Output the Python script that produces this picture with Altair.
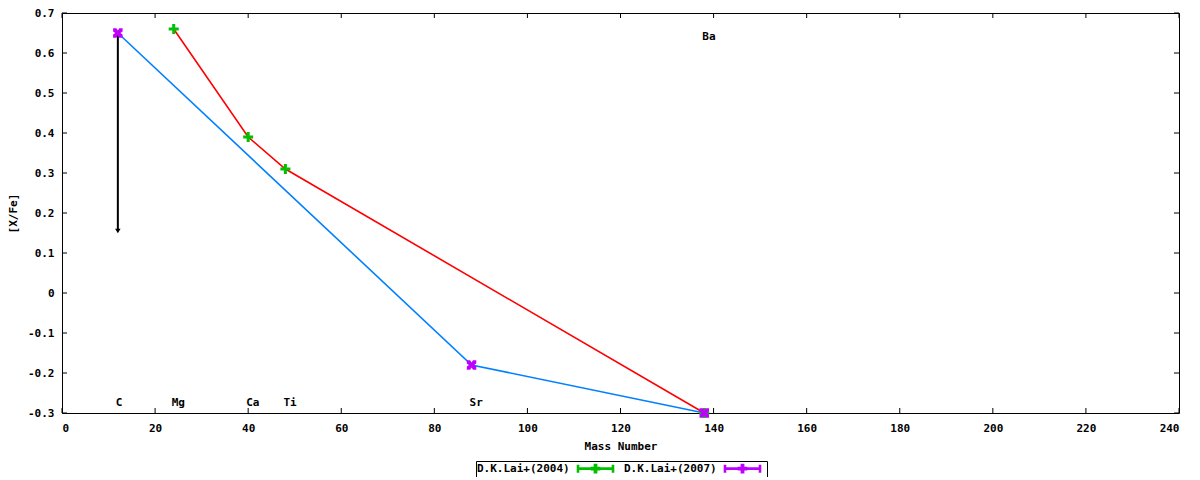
import altair as alt
import pandas as pd

# ---- data ----
SERIES = ["D.K.Lai+(2004)", "D.K.Lai+(2007)"]
MASS_2004 = [24, 40, 48, 138]
XFE_2004 = [0.66, 0.39, 0.31, -0.30]
MASS_2007 = [12, 88, 138]
XFE_2007 = [0.65, -0.18, -0.30]

# upper limit arrow for C (2007)
LIMIT_MASS = [12]
LIMIT_FROM = [0.65]
LIMIT_TO = [0.155]

ELEM_NAMES = ["C", "Mg", "Ca", "Ti", "Sr", "Ba"]
ELEM_MASS = [12, 24, 40, 48, 88, 138]
ELEM_Y = [-0.275, -0.275, -0.275, -0.275, -0.275, 0.64]

X_TICKS = [0, 20, 40, 60, 80, 100, 120, 140, 160, 180, 200, 220, 240]
Y_TICKS = [-0.3, -0.2, -0.1, 0.0, 0.1, 0.2, 0.3, 0.4, 0.5, 0.6, 0.7]

LINE_COLORS = ["#ff0000", "#0080ff"]
POINT_COLORS = ["#00c000", "#c000ff"]

W, H = 1117, 400
FONT = "DejaVu Sans Mono"

df = pd.DataFrame({
    "mass": MASS_2004 + MASS_2007,
    "xfe": XFE_2004 + XFE_2007,
    "series": [SERIES[0]] * len(MASS_2004) + [SERIES[1]] * len(MASS_2007),
})
lim = pd.DataFrame({"mass": LIMIT_MASS, "y1": LIMIT_FROM, "y2": LIMIT_TO})
elem = pd.DataFrame({"name": ELEM_NAMES, "mass": ELEM_MASS, "y": ELEM_Y})
xt = pd.DataFrame({"v": X_TICKS})
yt = pd.DataFrame({"v": Y_TICKS})

xs = alt.Scale(domain=[0, 240], nice=False, zero=False)
ys = alt.Scale(domain=[-0.3, 0.7], nice=False, zero=False)

xax = alt.Axis(values=X_TICKS, title="Mass Number", grid=False, ticks=False, domain=False,
               labelPadding=9, titlePadding=7, labelOverlap=False)
yax = alt.Axis(values=Y_TICKS, title="[X/Fe]", grid=False, ticks=False, domain=False,
               labelPadding=8, titlePadding=9, labelOverlap=False,
               labelExpr="abs(datum.value) < 1e-9 ? '0' : replace(format(datum.value, '.1f'), '\u2212', '-')")


def XF(field):
    return alt.X(field, type="quantitative", scale=xs, axis=xax)


def YF(field):
    return alt.Y(field, type="quantitative", scale=ys, axis=yax)


base = alt.Chart(df)
d04 = base.transform_filter(alt.datum.series == SERIES[0])
d07 = base.transform_filter(alt.datum.series == SERIES[1])

line04 = d04.mark_line(color=LINE_COLORS[0], strokeWidth=1.6).encode(
    x=XF("mass"), y=YF("xfe"), order="mass:Q")
line07 = d07.mark_line(color=LINE_COLORS[1], strokeWidth=1.6).encode(
    x=XF("mass"), y=YF("xfe"), order="mass:Q")

PLUS = "M-0.3,-1H0.3V-0.3H1V0.3H0.3V1H-0.3V0.3H-1V-0.3H-0.3Z"
XSQ = ("M-1,-1L-0.3,-1L0,-0.55L0.3,-1L1,-1L1,-0.3L0.55,0L1,0.3L1,1L0.3,1"
       "L0,0.55L-0.3,1L-1,1L-1,0.3L-0.55,0L-1,-0.3Z")

pts04 = d04.mark_point(filled=True, opacity=1, size=100, strokeWidth=0,
                       fill=POINT_COLORS[0], shape=PLUS).encode(x=XF("mass"), y=YF("xfe"))
pts07 = d07.mark_point(filled=True, opacity=1, size=90, strokeWidth=0,
                       fill=POINT_COLORS[1], shape=XSQ).encode(x=XF("mass"), y=YF("xfe"))

# upper-limit arrow
arrow = alt.Chart(lim).mark_rule(color="black", strokeWidth=2).encode(
    x=XF("mass"), y=YF("y1"), y2="y2:Q")
arrow_head = alt.Chart(lim).mark_point(shape="triangle-down", filled=True, color="black",
                                       opacity=1, size=30).encode(x=XF("mass"), y=YF("y2"))

color_scale = alt.Scale(domain=SERIES, range=POINT_COLORS)
# legend sample (error-bar style line with marker) drawn to the right of the label
LEG = ("M18.9,0H25.9M18.9,-0.8V0.8M25.9,-0.8V0.8"
       "M22.28,-0.7H22.52V-0.12H23.1V0.12H22.52V0.7H22.28V0.12H21.7V-0.12H22.28Z")

legend_carrier = base.transform_filter("false").mark_point(
    filled=False, opacity=1, strokeWidth=2.6).encode(
    x=XF("mass"), y=YF("xfe"),
    stroke=alt.Stroke("series:N", scale=color_scale, legend=alt.Legend(
        title=None, orient="none", direction="horizontal", legendX=414, legendY=448,
        symbolType=LEG, symbolSize=100, symbolStrokeWidth=2.6,
        labelFont=FONT, labelFontSize=11, labelFontWeight="bold", labelColor="black",
        labelAlign="left", labelOffset={"expr": "-13"}, columnPadding=5,
        strokeColor="black", padding=1, offset=0)),
)

labels = alt.Chart(elem).mark_text(font=FONT, fontSize=11, fontWeight="bold", color="black",
                                   align="left", baseline="middle", dx=-2).encode(
    x=XF("mass"), y=YF("y"), text="name:N")

TL = 5
tick_b = alt.Chart(xt).mark_rule(color="black", strokeWidth=1).encode(
    x=XF("v"), y=alt.value(H), y2=alt.value(H - TL))
tick_t = alt.Chart(xt).mark_rule(color="black", strokeWidth=1).encode(
    x=XF("v"), y=alt.value(0), y2=alt.value(TL))
tick_l = alt.Chart(yt).mark_rule(color="black", strokeWidth=1).encode(
    y=YF("v"), x=alt.value(0), x2=alt.value(TL))
tick_r = alt.Chart(yt).mark_rule(color="black", strokeWidth=1).encode(
    y=YF("v"), x=alt.value(W), x2=alt.value(W - TL))

chart = alt.layer(
    line04, line07, arrow, arrow_head, pts04, pts07, legend_carrier, labels,
    tick_b, tick_t, tick_l, tick_r,
).properties(
    width=W, height=H,
    background="white",
    autosize=alt.AutoSizeParams(type="none"),
    padding={"left": 54, "top": 5, "right": 6, "bottom": 64},
).configure_view(
    stroke="black", strokeWidth=1
).configure_axis(
    labelFont=FONT, labelFontSize=11, labelFontWeight="bold", labelColor="black",
    titleFont=FONT, titleFontSize=11, titleFontWeight="bold", titleColor="black",
)

chart.save("out.html", embed_options={"renderer": "svg", "actions": False})
